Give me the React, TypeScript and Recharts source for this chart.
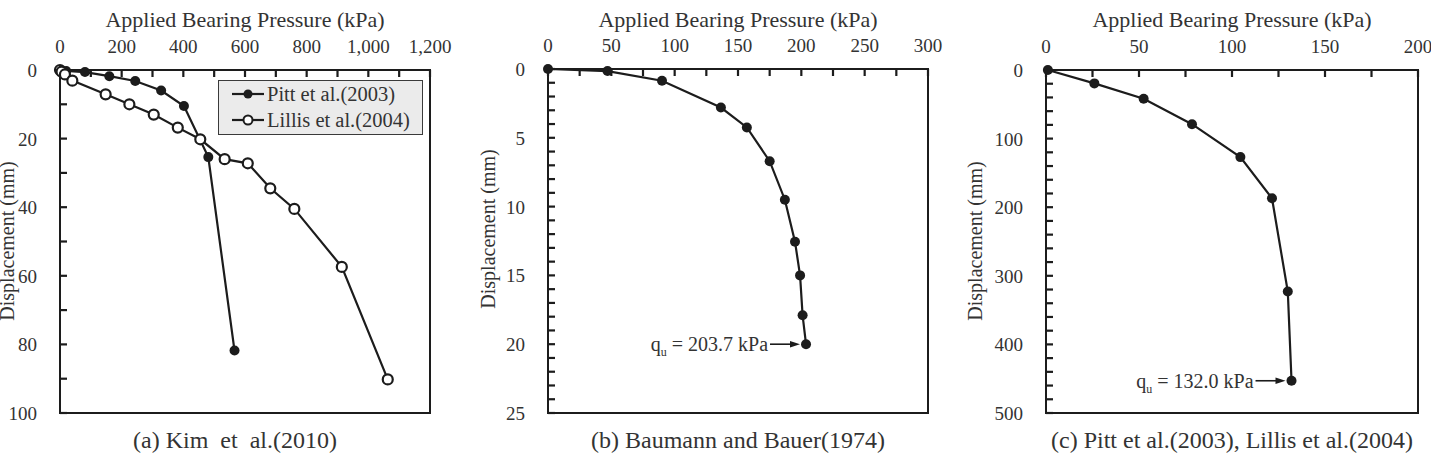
import React from "react";
import { ScatterChart, Scatter, XAxis, YAxis, ReferenceArea, Legend } from "recharts";

const FONT = "'Liberation Serif', 'Times New Roman', serif";
const INK = "#1c1c1c";
const TEXT = "#333333";

// (a) Kim et al. (2010) – two load tests
const pittPressure = [0, 20, 81, 160, 244, 328, 402, 481, 566];
const pittDisp = [0, 0.3, 0.6, 1.8, 3.2, 6.0, 10.5, 25.4, 81.8];
const lillisPressure = [0, 5, 16, 40, 148, 225, 304, 382, 455, 534, 609, 682, 760, 914, 1063];
const lillisDisp = [0, 0.5, 1.3, 3.1, 7.1, 10.0, 13.0, 16.8, 20.2, 26.0, 27.2, 34.5, 40.5, 57.4, 90.2];
const kimXTicks = [0, 100, 200, 300, 400, 500, 600, 700, 800, 900, 1000, 1100, 1200];
const kimXLabels = [0, 200, 400, 600, 800, 1000, 1200];
const kimYTicks = [0, 10, 20, 30, 40, 50, 60, 70, 80, 90, 100];
const kimYLabels = [0, 20, 40, 60, 80, 100];

// (b) Baumann and Bauer (1974)
const baumannPressure = [0, 47, 90, 136.5, 157, 175, 187, 195, 199, 201, 203.7];
const baumannDisp = [0, 0.15, 0.85, 2.8, 4.25, 6.7, 9.5, 12.55, 15.0, 17.9, 20.0];
const baumannXTicks = [0, 25, 50, 75, 100, 125, 150, 175, 200, 225, 250, 275, 300];
const baumannXLabels = [0, 50, 100, 150, 200, 250, 300];
const baumannYTicks = [0, 1, 2, 3, 4, 5, 6, 7, 8, 9, 10, 11, 12, 13, 14, 15, 16, 17, 18, 19, 20, 21, 22, 23, 24, 25];
const baumannYLabels = [0, 5, 10, 15, 20, 25];

// (c) Pitt et al. (2003), Lillis et al. (2004)
const combinedPressure = [1, 26, 52.5, 78.5, 104.5, 121.5, 130, 132.0];
const combinedDisp = [0, 19.5, 42, 79, 127, 187, 323, 453];
const combinedXTicks = [0, 25, 50, 75, 100, 125, 150, 175, 200];
const combinedXLabels = [0, 50, 100, 150, 200];
const combinedYTicks = [0, 20, 40, 60, 80, 100, 120, 140, 160, 180, 200, 220, 240, 260, 280, 300, 320, 340, 360, 380, 400, 420, 440, 460, 480, 500];
const combinedYLabels = [0, 100, 200, 300, 400, 500];

type Pt = { x: number; y: number };
type Series = { name: string; data: Pt[]; hollow?: boolean };

const zip = (xs: number[], ys: number[]): Pt[] => xs.map((x, i) => ({ x, y: ys[i] }));

const fmtThousands = (v: number) => v.toLocaleString("en-US");
const fmtPlain = (v: number) => String(v);

const TICK_LEN = 7;
const TICK_W = 2.2;

const makeXTick = (fmt: (v: number) => string) => (props: any) => (
  <text x={props.x} y={props.y} textAnchor="middle" fontSize={19} fill={TEXT} fontFamily={FONT}>
    {fmt(props.payload.value)}
  </text>
);

const YTick = (props: any) => (
  <text x={props.x} y={props.y} dy={7} textAnchor="end" fontSize={19} fill={TEXT} fontFamily={FONT}>
    {props.payload.value}
  </text>
);

// inward tick marks along the top and left frame edges, drawn as small rects
const TopTick = (props: any) => (
  <rect x={props.cx - TICK_W / 2} y={props.cy} width={TICK_W} height={TICK_LEN} fill={INK} />
);
const LeftTick = (props: any) => (
  <rect x={props.cx} y={props.cy - TICK_W / 2} width={TICK_LEN} height={TICK_W} fill={INK} />
);

const Filled = (props: any) => <circle cx={props.cx} cy={props.cy} r={5} fill={INK} />;
const Hollow = (props: any) => (
  <circle cx={props.cx} cy={props.cy} r={5} fill="#fff" stroke={INK} strokeWidth={2.2} />
);

// arrow + "q_u = ... kPa" pointing at the last point of a curve
const QuNote = (props: any) => {
  const { cx, cy, payload } = props;
  const tip = cx - 6;
  const tail = cx - 36;
  return (
    <g>
      <line x1={tail} y1={cy} x2={tip - 6} y2={cy} stroke={INK} strokeWidth={1.6} />
      <path d={`M${tip},${cy} L${tip - 10},${cy - 3.2} L${tip - 10},${cy + 3.2} Z`} fill={INK} />
      <text x={tail - 2} y={cy + 7} textAnchor="end" fontSize={20} fill={TEXT} fontFamily={FONT}>
        <tspan>q</tspan>
        <tspan fontSize={12} dy={5}>u</tspan>
        <tspan dy={-5}>{` = ${payload.x.toFixed(1)} kPa`}</tspan>
      </text>
    </g>
  );
};

const LegendBox = ({ series }: { series: Series[] }) => (
  <div
    style={{
      width: 205,
      height: 55,
      boxSizing: "border-box",
      background: "#ebebeb",
      border: "1.5px solid #3a3a3a",
    }}
  >
    {series.map((s) => (
      <div key={s.name} style={{ display: "flex", alignItems: "center", height: 26 }}>
        <svg width={48} height={14} style={{ display: "block" }}>
          <line x1={13} x2={45} y1={7} y2={7} stroke={INK} strokeWidth={2.2} />
          {s.hollow ? (
            <circle cx={29} cy={7} r={4.5} fill="#fff" stroke={INK} strokeWidth={2} />
          ) : (
            <circle cx={29} cy={7} r={4.5} fill={INK} />
          )}
        </svg>
        <span style={{ fontFamily: FONT, fontSize: 20.5, color: TEXT, lineHeight: "20px" }}>{s.name}</span>
      </div>
    ))}
  </div>
);

type PanelProps = {
  left: number;
  width: number;
  margin: { top: number; right: number; bottom: number; left: number };
  xMax: number;
  xTicks: number[];
  xLabels: number[];
  xFmt: (v: number) => string;
  yMax: number;
  yTicks: number[];
  yLabels: number[];
  series: Series[];
  ultimate?: Pt;
  showLegend?: boolean;
  yTitleX: number;
  yTitleY: number;
  caption: string;
  captionX: number;
};

function Panel(p: PanelProps) {
  const height = 456;
  const plotLeft = p.margin.left + 50;
  const plotRight = p.width - p.margin.right;
  const plotCenter = (plotLeft + plotRight) / 2;

  const topTicks = p.xTicks.map((x) => ({ x, y: 0 }));
  const leftTicks = p.yTicks.map((y) => ({ x: 0, y }));

  return (
    <div style={{ position: "absolute", left: p.left, top: 0, width: p.width, height }}>
      <ScatterChart width={p.width} height={height} margin={p.margin}>
        <XAxis
          type="number"
          dataKey="x"
          orientation="top"
          height={60}
          domain={[0, p.xMax]}
          ticks={p.xLabels}
          interval={0}
          axisLine={false}
          tickLine={false}
          tickSize={0}
          tickMargin={17}
          tick={makeXTick(p.xFmt)}
          label={{
            content: () => (
              <text x={plotCenter} y={27} textAnchor="middle" fontSize={22} fill={TEXT} fontFamily={FONT}>
                Applied Bearing Pressure (kPa)
              </text>
            ),
          }}
        />
        <YAxis
          type="number"
          dataKey="y"
          width={50}
          reversed
          domain={[0, p.yMax]}
          ticks={p.yLabels}
          interval={0}
          axisLine={false}
          tickLine={false}
          tickSize={0}
          tickMargin={23}
          tick={YTick}
          label={{
            content: () => (
              <text
                x={p.yTitleX}
                y={p.yTitleY}
                transform={`rotate(-90 ${p.yTitleX} ${p.yTitleY})`}
                textAnchor="middle"
                fontSize={20}
                fill={TEXT}
                fontFamily={FONT}
              >
                Displacement (mm)
              </text>
            ),
          }}
        />
        <ReferenceArea
          x1={0}
          x2={p.xMax}
          y1={0}
          y2={p.yMax}
          fill="none"
          stroke={INK}
          strokeWidth={2}
          ifOverflow="visible"
        />
        <Scatter data={topTicks} shape={TopTick} legendType="none" isAnimationActive={false} />
        <Scatter data={leftTicks} shape={LeftTick} legendType="none" isAnimationActive={false} />
        {p.series.map((s) => (
          <Scatter
            key={s.name}
            name={s.name}
            data={s.data}
            line={{ stroke: INK, strokeWidth: 2.2 }}
            lineType="joint"
            shape={s.hollow ? Hollow : Filled}
            isAnimationActive={false}
          />
        ))}
        {p.ultimate && (
          <Scatter data={[p.ultimate]} shape={QuNote} legendType="none" isAnimationActive={false} />
        )}
        {p.showLegend && (
          <Legend
            layout="vertical"
            align="center"
            verticalAlign="middle"
            wrapperStyle={{ position: "absolute", left: 218, top: 80, width: 205 }}
            content={() => <LegendBox series={p.series} />}
          />
        )}
      </ScatterChart>
      <div
        style={{
          position: "absolute",
          left: p.captionX - 250,
          width: 500,
          top: 428,
          textAlign: "center",
          whiteSpace: "pre",
          fontFamily: FONT,
          fontSize: 24,
          lineHeight: "24px",
          color: TEXT,
        }}
      >
        {p.caption}
      </div>
    </div>
  );
}

const pitt = zip(pittPressure, pittDisp);
const lillis = zip(lillisPressure, lillisDisp);
const baumann = zip(baumannPressure, baumannDisp);
const combined = zip(combinedPressure, combinedDisp);

export default function App() {
  return (
    <div style={{ position: "absolute", left: 0, top: 0, width: 1431, height: 456, background: "#fff", overflow: "hidden" }}>
      <Panel
        left={0}
        width={470}
        margin={{ top: 10, right: 40, bottom: 43, left: 10 }}
        xMax={1200}
        xTicks={kimXTicks}
        xLabels={kimXLabels}
        xFmt={fmtThousands}
        yMax={100}
        yTicks={kimYTicks}
        yLabels={kimYLabels}
        series={[
          { name: "Pitt et al.(2003)", data: pitt },
          { name: "Lillis et al.(2004)", data: lillis, hollow: true },
        ]}
        showLegend
        yTitleX={14}
        yTitleY={241}
        caption="(a) Kim  et  al.(2010)"
        captionX={235}
      />
      <Panel
        left={470}
        width={480}
        margin={{ top: 9, right: 22, bottom: 43, left: 28 }}
        xMax={300}
        xTicks={baumannXTicks}
        xLabels={baumannXLabels}
        xFmt={fmtPlain}
        yMax={25}
        yTicks={baumannYTicks}
        yLabels={baumannYLabels}
        series={[{ name: "Baumann and Bauer(1974)", data: baumann }]}
        ultimate={baumann[baumann.length - 1]}
        yTitleX={25}
        yTitleY={229}
        caption="(b) Baumann and Bauer(1974)"
        captionX={268}
      />
      <Panel
        left={950}
        width={481}
        margin={{ top: 10, right: 13, bottom: 43, left: 46 }}
        xMax={200}
        xTicks={combinedXTicks}
        xLabels={combinedXLabels}
        xFmt={fmtPlain}
        yMax={500}
        yTicks={combinedYTicks}
        yLabels={combinedYLabels}
        series={[{ name: "Pitt et al.(2003), Lillis et al.(2004)", data: combined }]}
        ultimate={combined[combined.length - 1]}
        yTitleX={32}
        yTitleY={241}
        caption="(c) Pitt et al.(2003), Lillis et al.(2004)"
        captionX={282}
      />
    </div>
  );
}
